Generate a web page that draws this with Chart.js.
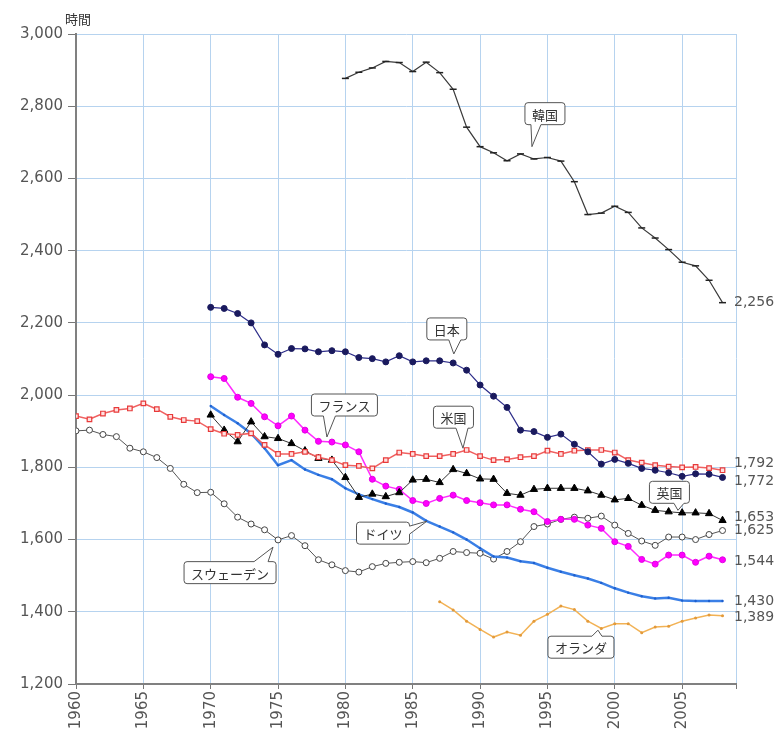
<!DOCTYPE html>
<html>
<head>
<meta charset="utf-8">
<script src="https://cdn.jsdelivr.net/npm/chart.js@4/dist/chart.umd.min.js"></script>
<style>
  html, body { margin: 0; padding: 0; background: #fff; }
  #wrap { width: 780px; height: 729px; }
</style>
</head>
<body>
<div id="wrap"><canvas id="c" width="780" height="729"></canvas></div>
<script>
// 年間総実労働時間（時間）
const xTicks = [1960, 1965, 1970, 1975, 1980, 1985, 1990, 1995, 2000, 2005, 2009];
const yMin = 1200, yMax = 3000, yStep = 200;

const koreaStart = 1980;
const korea = [2877, 2894, 2906, 2924, 2921, 2896, 2922, 2893, 2847, 2742,
               2688, 2671, 2649, 2668, 2654, 2658, 2648, 2591, 2500, 2504,
               2523, 2506, 2463, 2435, 2403, 2368, 2358, 2318, 2256];

const japanStart = 1970;
const japan = [2243, 2240, 2226, 2200, 2139, 2113, 2129, 2128, 2120, 2123,
               2120, 2104, 2101, 2092, 2109, 2092, 2095, 2095, 2089, 2069,
               2028, 1997, 1966, 1903, 1899, 1883, 1892, 1864, 1843, 1809,
               1822, 1811, 1797, 1792, 1785, 1775, 1782, 1781, 1772];

const usaStart = 1960;
const usa = [1942, 1933, 1949, 1959, 1963, 1977, 1961, 1940, 1931, 1928,
             1906, 1893, 1890, 1894, 1862, 1837, 1837, 1843, 1828, 1820,
             1806, 1804, 1797, 1820, 1841, 1837, 1831, 1831, 1837, 1848,
             1831, 1820, 1822, 1828, 1831, 1846, 1837, 1846, 1848, 1848,
             1841, 1820, 1813, 1806, 1802, 1800, 1801, 1798, 1792];

const franceStart = 1970;
const france = [2051, 2046, 1994, 1977, 1940, 1915, 1942, 1903, 1872, 1870,
                1862, 1843, 1767, 1748, 1739, 1708, 1700, 1714, 1723, 1708,
                1702, 1696, 1696, 1684, 1677, 1650, 1656, 1656, 1640, 1631,
                1594, 1581, 1545, 1532, 1557, 1557, 1537, 1554, 1544];

const ukStart = 1970;
const uk = [1945, 1903, 1871, 1926, 1885, 1880, 1866, 1846, 1825, 1820,
            1772, 1717, 1726, 1719, 1730, 1765, 1767, 1758, 1794, 1783,
            1768, 1767, 1728, 1723, 1739, 1742, 1742, 1742, 1735, 1723,
            1710, 1714, 1695, 1681, 1677, 1674, 1674, 1672, 1653];

const germanyStart = 1970;
const germany = [1970, 1945, 1922, 1894, 1853, 1806, 1820, 1794, 1779, 1767,
                 1742, 1725, 1712, 1700, 1690, 1675, 1652, 1636, 1620, 1600,
                 1576, 1553, 1550, 1540, 1535, 1522, 1511, 1501, 1492, 1480,
                 1465, 1453, 1443, 1437, 1439, 1431, 1430, 1430, 1430];

const swedenStart = 1960;
const sweden = [1901, 1903, 1891, 1885, 1853, 1843, 1827, 1797, 1753, 1730,
                1731, 1699, 1662, 1643, 1627, 1599, 1611, 1583, 1544, 1530,
                1514, 1510, 1525, 1534, 1537, 1539, 1536, 1548, 1567, 1564,
                1562, 1546, 1567, 1594, 1636, 1643, 1656, 1662, 1659, 1665,
                1640, 1617, 1596, 1584, 1607, 1607, 1600, 1614, 1625];

const netherlandsStart = 1987;
const netherlands = [1428, 1405, 1374, 1351, 1330, 1344, 1335, 1374, 1393, 1416,
                     1406, 1374, 1354, 1367, 1367, 1342, 1358, 1360, 1374, 1383,
                     1391, 1389];

// callout labels: text, anchor (year, hours)
const calloutNames = ['韓国', '日本', 'フランス', '米国', '英国', 'ドイツ', 'スウェーデン', 'オランダ'];
const calloutYears = [1993.85, 1988.05, 1978.63, 1988.73, 2004.69, 1986.06, 1974.63, 1998.75];
const calloutHours = [2688, 2114, 1884, 1853, 1681, 1651, 1579, 1349];

const toPoints = (start, arr) => arr.map((v, i) => ({ x: start + i, y: v }));

// box placement relative to the pointer tip (pixels)
const calloutStyle = [
  { dx: 13,    dy: -33,  side: 'bottom', off: -9,  bw: 10 },
  { dx: -7,    dy: -25,  side: 'bottom', off: 8,   bw: 12 },
  { dx: 17.5,  dy: -32,  side: 'bottom', off: -15, bw: 12 },
  { dx: -9.5,  dy: -31,  side: 'bottom', off: 8.5, bw: 12 },
  { dx: -8.5,  dy: -18,  side: 'bottom', off: 9.5, bw: 10 },
  { dx: -44,   dy: 12,   side: 'right',  off: -3,  bw: 8 },
  { dx: -43,   dy: 25.5, side: 'top',    off: 31,  bw: 14 },
  { dx: -17,   dy: 17,   side: 'top',    off: 16,  bw: 10 }
];

const calloutPlugin = {
  id: 'callouts',
  afterDatasetsDraw(chart) {
    const { ctx, scales } = chart;
    ctx.save();
    ctx.font = '13px "Noto Sans CJK JP"';
    calloutNames.forEach((text, i) => {
      const s = calloutStyle[i];
      const tx = scales.x.getPixelForValue(calloutYears[i]);
      const ty = scales.y.getPixelForValue(calloutHours[i]);
      const w = ctx.measureText(text).width + 14, h = 22, r = 3;
      const cx = tx + s.dx, cy = ty + s.dy;
      const l = cx - w / 2, t = cy - h / 2, rt = l + w, b = t + h;
      const half = s.bw / 2;
      ctx.beginPath();
      ctx.moveTo(l + r, t);
      if (s.side === 'top') {
        ctx.lineTo(cx + s.off - half, t);
        ctx.lineTo(tx, ty);
        ctx.lineTo(cx + s.off + half, t);
      }
      ctx.lineTo(rt - r, t);
      ctx.arcTo(rt, t, rt, t + r, r);
      if (s.side === 'right') {
        ctx.lineTo(rt, cy + s.off - half);
        ctx.lineTo(tx, ty);
        ctx.lineTo(rt, cy + s.off + half);
      }
      ctx.lineTo(rt, b - r);
      ctx.arcTo(rt, b, rt - r, b, r);
      if (s.side === 'bottom') {
        ctx.lineTo(cx + s.off + half, b);
        ctx.lineTo(tx, ty);
        ctx.lineTo(cx + s.off - half, b);
      }
      ctx.lineTo(l + r, b);
      ctx.arcTo(l, b, l, b - r, r);
      ctx.lineTo(l, t + r);
      ctx.arcTo(l, t, l + r, t, r);
      ctx.closePath();
      ctx.fillStyle = '#ffffff';
      ctx.fill();
      ctx.strokeStyle = '#555555';
      ctx.lineWidth = 1;
      ctx.stroke();
      ctx.fillStyle = '#333333';
      ctx.textAlign = 'center';
      ctx.textBaseline = 'middle';
      ctx.fillText(text, cx, cy + 1);
    });
    ctx.restore();
  }
};

// end-of-line value labels; small vertical nudges keep close values apart
const endNudge = { '韓国': 0, '米国': -7, '日本': 4, '英国': -3, 'スウェーデン': 0, 'フランス': 2, 'ドイツ': 0, 'オランダ': 2 };

const endLabelPlugin = {
  id: 'endLabels',
  afterDatasetsDraw(chart) {
    const { ctx, scales, chartArea } = chart;
    ctx.save();
    ctx.font = '14px "DejaVu Sans"';
    ctx.fillStyle = '#555555';
    ctx.textAlign = 'left';
    ctx.textBaseline = 'middle';
    chart.data.datasets.forEach(ds => {
      const last = ds.data[ds.data.length - 1].y;
      const yy = scales.y.getPixelForValue(last) + (endNudge[ds.label] || 0);
      ctx.fillText(last.toLocaleString('en-US'), chartArea.right - 2, yy);
    });
    // unit caption above the value axis
    ctx.font = '13px "Noto Sans CJK JP"';
    ctx.fillStyle = '#333333';
    ctx.textBaseline = 'top';
    ctx.fillText('時間', 65, 13);
    ctx.restore();
  }
};

const datasets = [
  { label: '韓国', data: toPoints(koreaStart, korea), borderColor: '#3a3a3a', borderWidth: 1.2,
    pointStyle: 'line', pointRadius: 3.5, pointBorderColor: '#222', pointBorderWidth: 1.5, pointBackgroundColor: '#222' },
  { label: '日本', data: toPoints(japanStart, japan), borderColor: '#2e2e8a', borderWidth: 1.2,
    pointStyle: 'circle', pointRadius: 3, pointBackgroundColor: '#1a1a5e', pointBorderColor: '#1a1a5e', pointBorderWidth: 1 },
  { label: '米国', data: toPoints(usaStart, usa), borderColor: '#f06060', borderWidth: 1.5,
    pointStyle: 'rect', pointRadius: 3.2, pointBackgroundColor: '#ffe0e0', pointBorderColor: '#e83a3a', pointBorderWidth: 1.2 },
  { label: '英国', data: toPoints(ukStart, uk), borderColor: '#333', borderWidth: 1,
    pointStyle: 'triangle', pointRadius: 4.2, pointBackgroundColor: '#000', pointBorderColor: '#000', pointBorderWidth: 1 },
  { label: 'フランス', data: toPoints(franceStart, france), borderColor: '#ff2aff', borderWidth: 1.5,
    pointStyle: 'circle', pointRadius: 3, pointBackgroundColor: '#ff00ff', pointBorderColor: '#e000e0', pointBorderWidth: 1 },
  { label: 'ドイツ', data: toPoints(germanyStart, germany), borderColor: '#3a7fe6', borderWidth: 2.5,
    pointStyle: 'circle', pointRadius: 1.2, pointBackgroundColor: '#1d5fcf', pointBorderColor: '#1d5fcf', pointBorderWidth: 0 },
  { label: 'スウェーデン', data: toPoints(swedenStart, sweden), borderColor: '#555', borderWidth: 1,
    pointStyle: 'circle', pointRadius: 3, pointBackgroundColor: '#ffffff', pointBorderColor: '#444', pointBorderWidth: 1 },
  { label: 'オランダ', data: toPoints(netherlandsStart, netherlands), borderColor: '#f2b255', borderWidth: 1.5,
    pointStyle: 'circle', pointRadius: 1.5, pointBackgroundColor: '#e39a3a', pointBorderColor: '#e39a3a', pointBorderWidth: 0 }
];

const gridColor = '#b6d3ef';

new Chart(document.getElementById('c'), {
  type: 'line',
  data: { datasets },
  options: {
    responsive: false,
    animation: false,
    layout: { padding: { top: 34, right: 44, left: 0, bottom: 0 } },
    plugins: { legend: { display: false }, tooltip: { enabled: false } },
    elements: { line: { tension: 0 } },
    scales: {
      x: {
        type: 'linear',
        min: xTicks[0],
        max: xTicks[xTicks.length - 1],
        afterBuildTicks: axis => { axis.ticks = xTicks.map(v => ({ value: v })); },
        afterFit: axis => { axis.height = 45; },
        grid: { color: gridColor, lineWidth: 1, tickColor: '#777', tickLength: 5 },
        border: { display: true, color: '#808080', width: 2 },
        ticks: {
          autoSkip: false, minRotation: 90, maxRotation: 90, padding: 2,
          color: '#555', font: { family: 'DejaVu Sans', size: 15 },
          callback: v => (v === xTicks[xTicks.length - 1] ? '' : String(v))
        }
      },
      y: {
        type: 'linear',
        min: yMin,
        max: yMax,
        afterFit: axis => { axis.width = 76; },
        grid: { color: gridColor, lineWidth: 1, tickColor: '#777', tickLength: 8 },
        border: { display: true, color: '#808080', width: 2 },
        ticks: {
          stepSize: yStep, padding: 5,
          color: '#555', font: { family: 'DejaVu Sans', size: 15 },
          callback: v => v.toLocaleString('en-US')
        }
      }
    }
  },
  plugins: [calloutPlugin, endLabelPlugin]
});
</script>
</body>
</html>
